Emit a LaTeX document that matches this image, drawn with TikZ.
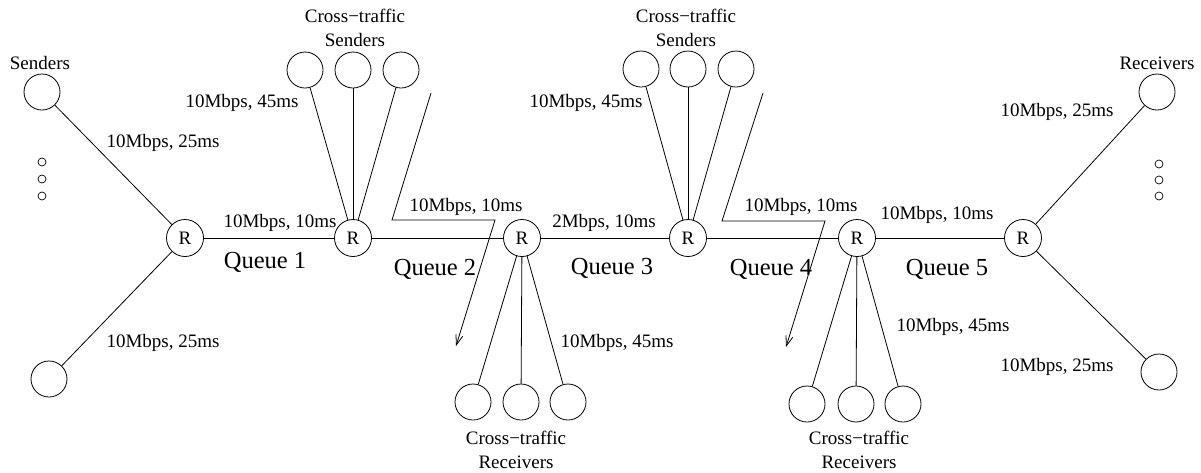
\documentclass[tikz,border=0pt]{standalone}
\usepackage{fontspec}
\setmainfont{Liberation Serif}
\usetikzlibrary{arrows.meta}
\begin{document}
\begin{tikzpicture}[x=1pt,y=-1pt,line width=0.8pt,
  router/.style={circle,draw,minimum size=37pt,inner sep=0pt,font=\fontsize{19}{22}\selectfont},
  host/.style={circle,draw,minimum size=36pt,inner sep=0pt},
  smalldot/.style={circle,draw,minimum size=8pt,inner sep=0pt,line width=0.7pt},
  lbl/.style={font=\fontsize{19}{24}\selectfont,inner sep=0pt,align=center},
  qlbl/.style={font=\fontsize{24.5}{28}\selectfont,inner sep=0pt},
  flow/.style={-{Straight Barb[length=10pt,width=7pt,line width=0.8pt]}}
]
\useasboundingbox (0,0) rectangle (1201,472);

% routers
\node[router] (R1) at (185,238) {R};
\node[router] (R2) at (353,238) {R};
\node[router] (R3) at (522,238) {R};
\node[router] (R4) at (688,238) {R};
\node[router] (R5) at (857,238) {R};
\node[router] (R6) at (1023,238) {R};
\draw (R1) -- (R2) -- (R3) -- (R4) -- (R5) -- (R6);

% senders
\node[host] (S1) at (42,92) {};
\node[host] (S2) at (49,379) {};
\node[smalldot] (sd1) at (42,162) {};
\node[smalldot] (sd2) at (42,179) {};
\node[smalldot] (sd3) at (42,196) {};
\node[lbl] (sl) at (40,63) {Senders};
\draw (S1) -- (R1);
\draw (S2) -- (R1);
\node[lbl] (l1) at (163,143) {10Mbps, 25ms};
\node[lbl] (l2) at (163,343) {10Mbps, 25ms};

% receivers
\node[host] (T1) at (1157,92) {};
\node[host] (T2) at (1159,372) {};
\node[smalldot] (td1) at (1159,164) {};
\node[smalldot] (td2) at (1159,180) {};
\node[smalldot] (td3) at (1159,196) {};
\node[lbl] (tl) at (1157,63) {Receivers};
\draw (R6) -- (T1);
\draw (R6) -- (T2);
\node[lbl] (l3) at (1057,112) {10Mbps, 25ms};
\node[lbl] (l4) at (1057,367) {10Mbps, 25ms};

% cross-traffic senders group 1
\node[host] (A1) at (305,70) {};
\node[host] (A2) at (353,70) {};
\node[host] (A3) at (401,70) {};
\node[lbl] (al) at (355,28) {Cross−traffic\\Senders};
\draw (A1) -- (R2);
\draw (A2) -- (R2);
\draw (A3) -- (R2);
\node[lbl] (l5) at (242,103) {10Mbps, 45ms};

% cross-traffic receivers group 1
\node[host] (B1) at (473,402) {};
\node[host] (B2) at (521,402) {};
\node[host] (B3) at (568,402) {};
\node[lbl] (bl) at (516,450) {Cross−traffic\\Receivers};
\draw (R3) -- (B1);
\draw (R3) -- (B2);
\draw (R3) -- (B3);
\node[lbl] (l6) at (617,343) {10Mbps, 45ms};

% cross-traffic senders group 2
\node[host] (C1) at (641,69) {};
\node[host] (C2) at (688,69) {};
\node[host] (C3) at (736,69) {};
\node[lbl] (cl) at (686,28) {Cross−traffic\\Senders};
\draw (C1) -- (R4);
\draw (C2) -- (R4);
\draw (C3) -- (R4);
\node[lbl] (l7) at (586,103) {10Mbps, 45ms};

% cross-traffic receivers group 2
\node[host] (D1) at (807,404) {};
\node[host] (D2) at (856,404) {};
\node[host] (D3) at (903,404) {};
\node[lbl] (dl) at (859,450) {Cross−traffic\\Receivers};
\draw (R5) -- (D1);
\draw (R5) -- (D2);
\draw (R5) -- (D3);
\node[lbl] (l8) at (953,327) {10Mbps, 45ms};

% cross-traffic flows
\coordinate (f1s) at (431,93);
\coordinate (f1a) at (392,220);
\coordinate (f1b) at (495,220);
\coordinate (f1e) at (456,346);
\draw[flow] (f1s) -- (f1a) -- (f1b) -- (f1e);
\coordinate (f2s) at (763,93);
\coordinate (f2a) at (722,221);
\coordinate (f2b) at (825,221);
\coordinate (f2e) at (786,347);
\draw[flow] (f2s) -- (f2a) -- (f2b) -- (f2e);

% link labels
\node[lbl] (k1) at (280,223) {10Mbps, 10ms};
\node[lbl] (k2) at (466,207) {10Mbps, 10ms};
\node[lbl] (k3) at (604,223) {2Mbps, 10ms};
\node[lbl] (k4) at (801,207) {10Mbps, 10ms};
\node[lbl] (k5) at (937,215) {10Mbps, 10ms};

% queues
\node[qlbl] (q1) at (265,262) {Queue 1};
\node[qlbl] (q2) at (435,269) {Queue 2};
\node[qlbl] (q3) at (612,268) {Queue 3};
\node[qlbl] (q4) at (771,269) {Queue 4};
\node[qlbl] (q5) at (947,269) {Queue 5};
\end{tikzpicture}
\end{document}
